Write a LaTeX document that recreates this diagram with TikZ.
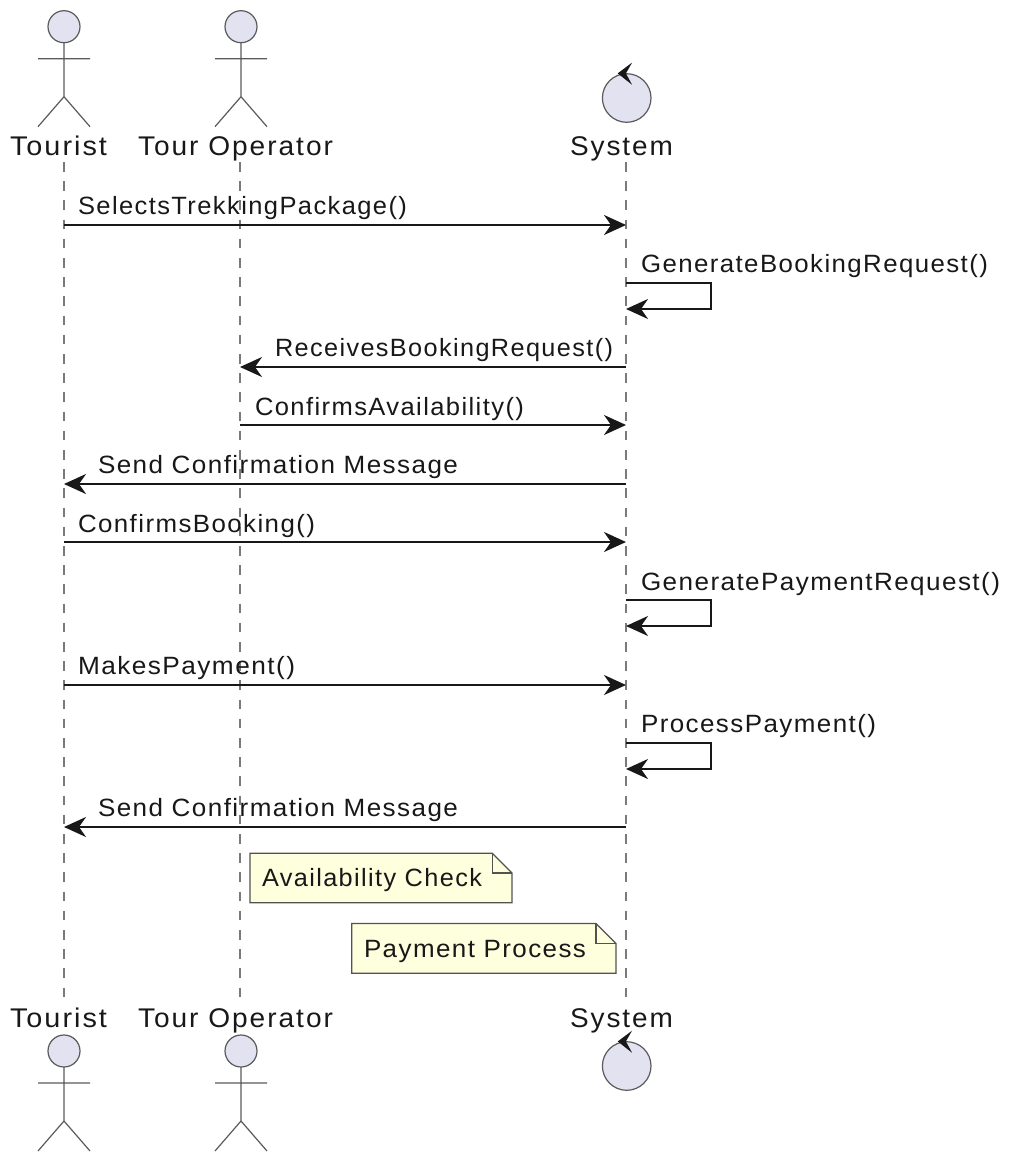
\documentclass[tikz,border=0pt]{standalone}
\usepackage{graphicx}
\usepackage{fontspec}
\setmainfont{Liberation Sans}
\newfontfamily\actorfont[LetterSpace=7]{Liberation Sans}
\newfontfamily\msgfont[LetterSpace=5.5]{Liberation Sans}
\usetikzlibrary{arrows.meta}
\definecolor{ink}{HTML}{181818}
\definecolor{partfill}{HTML}{E2E2F0}
\definecolor{notefill}{HTML}{FEFFDD}
\definecolor{lifegray}{HTML}{7A7A7A}
\definecolor{figline}{HTML}{5A5A5A}
\newcommand{\fitw}[2]{\resizebox{#1pt}{\height}{#2}}
\tikzset{
  x=1pt,y=-1pt,
  actorlabel/.style={anchor=base west,inner sep=0,outer sep=0,text=ink,font=\actorfont\fontsize{27}{30}\selectfont},
  msglabel/.style={anchor=base west,inner sep=0,outer sep=0,text=ink,font=\msgfont\fontsize{25}{28}\selectfont},
  notelabel/.style={msglabel},
  lifeline/.style={draw=lifegray,line width=1.8,dash pattern=on 9.6 off 9.6},
  msgline/.style={draw=ink,line width=2.1,-{Stealth[length=22,width=20,inset=7,fill=ink]}},
  figure/.style={draw=figline,line width=1.2},
  headdisc/.style={draw=figline,fill=partfill,line width=1.2},
  noteshape/.style={draw=ink!75!white,fill=notefill,line width=1.2},
}
\newcommand{\stickman}[2]{%
  \draw[figure] (#1,#2+16) -- (#1,#2+70) (#1-26,#2+32) -- (#1+26,#2+32)
    (#1-26,#2+100) -- (#1,#2+70) -- (#1+26,#2+100);
  \draw[headdisc] (#1,#2) circle[radius=16];
}
\newcommand{\controlmark}[2]{%
  \draw[headdisc] (#1,#2) circle[radius=24.3];
  \fill[ink] (#1-9,#2-24.6) -- (#1+5.4,#2-35.4) -- (#1-0.8,#2-24.6) -- (#1+5.4,#2-13.2) -- cycle;
}
\newcommand{\notebox}[6]{% left top right bottom foldx foldy
  \draw[noteshape] (#1,#2) -- (#5,#2) -- (#3,#6) -- (#3,#4) -- (#1,#4) -- cycle;
  \draw[noteshape,fill=none] (#5,#2) -- (#5,#6) -- (#3,#6);
}
\begin{document}
\begin{tikzpicture}
\useasboundingbox (0,0) rectangle (1012,1164);
% lifeline ends
\coordinate (tA) at (64,162); \coordinate (tB) at (64,1003);
\coordinate (oA) at (240,162);  \coordinate (oB) at (240,1003);
\coordinate (sA) at (626,162);  \coordinate (sB) at (626,1003);
\draw[lifeline] (tA) -- (tB);
\draw[lifeline] (oA) -- (oB);
\draw[lifeline] (sA) -- (sB);
% participants
\stickman{64}{26.7}
\stickman{241}{26.7}
\controlmark{626.7}{98}
\stickman{64}{1051}
\stickman{241}{1051}
\controlmark{626.7}{1066}
\node[actorlabel] (tourTop) at (10,155) {\fitw{97}{Tourist}};
\node[actorlabel] (operTop) at (138,155) {\fitw{195}{Tour Operator}};
\node[actorlabel] (sysTop) at (570,155) {\fitw{103}{System}};
\node[actorlabel] (tourBot) at (10,1027) {\fitw{97}{Tourist}};
\node[actorlabel] (operBot) at (138,1027) {\fitw{195}{Tour Operator}};
\node[actorlabel] (sysBot) at (570,1027) {\fitw{103}{System}};
% messages
\coordinate (t1) at (tA|-0,225); \coordinate (s1) at (sA|-0,225);
\draw[msgline] (t1) -- (s1);
\node[msglabel] (m1) at (78,214.5) {\fitw{329}{SelectsTrekkingPackage()}};

\coordinate (s2a) at (sA|-0,283); \coordinate (s2b) at (711,283);
\coordinate (s2c) at (711,309);  \coordinate (s2d) at (sA|-0,309);
\draw[msgline] (s2a) -- (s2b) -- (s2c) -- (s2d);
\node[msglabel] (m2) at (641,272) {\fitw{347}{GenerateBookingRequest()}};

\coordinate (s3) at (sA|-0,367); \coordinate (o3) at (oA|-0,367);
\draw[msgline] (s3) -- (o3);
\node[msglabel] (m3) at (275,356.5) {\fitw{338}{ReceivesBookingRequest()}};

\coordinate (o4) at (oA|-0,425); \coordinate (s4) at (sA|-0,425);
\draw[msgline] (o4) -- (s4);
\node[msglabel] (m4) at (255,415) {\fitw{269}{ConfirmsAvailability()}};

\coordinate (s5) at (sA|-0,484); \coordinate (t5) at (tA|-0,484);
\draw[msgline] (s5) -- (t5);
\node[msglabel] (m5) at (98,473.5) {\fitw{360}{Send Confirmation Message}};

\coordinate (t6) at (tA|-0,542); \coordinate (s6) at (sA|-0,542);
\draw[msgline] (t6) -- (s6);
\node[msglabel] (m6) at (78,532) {\fitw{237}{ConfirmsBooking()}};

\coordinate (s7a) at (sA|-0,600); \coordinate (s7b) at (711,600);
\coordinate (s7c) at (711,626);  \coordinate (s7d) at (sA|-0,626);
\draw[msgline] (s7a) -- (s7b) -- (s7c) -- (s7d);
\node[msglabel] (m7) at (641,590) {\fitw{359}{GeneratePaymentRequest()}};

\coordinate (t8) at (tA|-0,685); \coordinate (s8) at (sA|-0,685);
\draw[msgline] (t8) -- (s8);
\node[msglabel] (m8) at (78,674.5) {\fitw{217}{MakesPayment()}};

\coordinate (s9a) at (sA|-0,743); \coordinate (s9b) at (711,743);
\coordinate (s9c) at (711,769);  \coordinate (s9d) at (sA|-0,769);
\draw[msgline] (s9a) -- (s9b) -- (s9c) -- (s9d);
\node[msglabel] (m9) at (641,732.5) {\fitw{235}{ProcessPayment()}};

\coordinate (s10) at (sA|-0,827); \coordinate (t10) at (tA|-0,827);
\draw[msgline] (s10) -- (t10);
\node[msglabel] (m10) at (98,816.5) {\fitw{360}{Send Confirmation Message}};
% notes
\notebox{250}{853.3}{512}{902.8}{492.3}{873}
\node[notelabel] (n1) at (262,886) {\fitw{220}{Availability Check}};
\notebox{351.7}{923.5}{616}{973.3}{596}{943.5}
\node[notelabel] (n2) at (364,957) {\fitw{222}{Payment Process}};
\end{tikzpicture}
\end{document}
